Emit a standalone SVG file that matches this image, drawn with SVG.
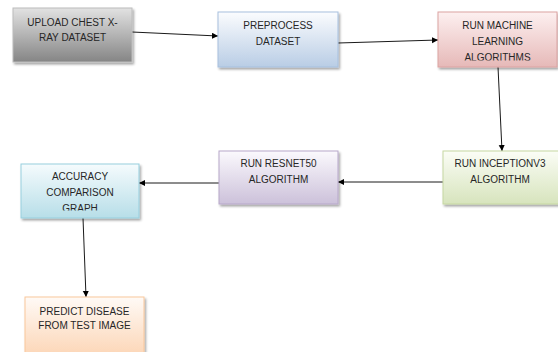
<svg xmlns="http://www.w3.org/2000/svg" width="558" height="352" viewBox="0 0 558 352">
<style>
  .box { stroke-width: 1; filter: url(#sh); }
  .t { font-family: "Liberation Sans", Arial, sans-serif; font-size: 10px; fill: #262626; text-anchor: middle; }
  .c { stroke: #1a1a1a; stroke-width: 1; fill: none; marker-end: url(#ah); }
</style>
<defs>
  <filter id="sh" x="-10%" y="-10%" width="130%" height="140%">
    <feDropShadow dx="1.5" dy="2" stdDeviation="1" flood-color="#000" flood-opacity="0.35"/>
  </filter>
  <marker id="ah" markerWidth="7" markerHeight="7" refX="6" refY="3" orient="auto" markerUnits="userSpaceOnUse">
    <path d="M0,0 L6,3 L0,6 z" fill="#000"/>
  </marker>
  <linearGradient id="gGray" x1="0" y1="0" x2="0" y2="1"><stop offset="0" stop-color="#e2e2e2"/><stop offset="1" stop-color="#858585"/></linearGradient>
  <linearGradient id="gBlue" x1="0" y1="0" x2="0" y2="1"><stop offset="0" stop-color="#fbfcfe"/><stop offset="1" stop-color="#b9cde5"/></linearGradient>
  <linearGradient id="gRed" x1="0" y1="0" x2="0" y2="1"><stop offset="0" stop-color="#fdf0f0"/><stop offset="1" stop-color="#e6b9b8"/></linearGradient>
  <linearGradient id="gGreen" x1="0" y1="0" x2="0" y2="1"><stop offset="0" stop-color="#fbfdf6"/><stop offset="1" stop-color="#d7e4bd"/></linearGradient>
  <linearGradient id="gPurple" x1="0" y1="0" x2="0" y2="1"><stop offset="0" stop-color="#fbf9fd"/><stop offset="1" stop-color="#ccc1da"/></linearGradient>
  <linearGradient id="gCyan" x1="0" y1="0" x2="0" y2="1"><stop offset="0" stop-color="#f5fbfd"/><stop offset="1" stop-color="#b7dee8"/></linearGradient>
  <linearGradient id="gOrange" x1="0" y1="0" x2="0" y2="1"><stop offset="0" stop-color="#fffaf6"/><stop offset="1" stop-color="#fcd5b5"/></linearGradient>
  <clipPath id="clip3"><rect x="438" y="12" width="120" height="48.5"/></clipPath>
  <clipPath id="clipAcc"><rect x="21" y="164" width="118" height="46.5"/></clipPath>
</defs>

<g id="connectors">
  <line class="c" x1="132" y1="32" x2="218" y2="36"/>
  <line class="c" x1="338" y1="43" x2="438" y2="40"/>
  <line class="c" x1="498" y1="67" x2="502" y2="151"/>
  <line class="c" x1="443" y1="182" x2="338" y2="182"/>
  <line class="c" x1="219" y1="183" x2="139" y2="183"/>
  <line class="c" x1="83" y1="218" x2="86" y2="297"/>
</g>

<g id="upload">
  <rect class="box" x="13" y="8" width="119" height="54" fill="url(#gGray)" stroke="#bcbcbc"/>
  <text class="t" x="72.5" y="25.5">UPLOAD CHEST X-</text>
  <text class="t" x="72.5" y="40.5">RAY DATASET</text>
</g>

<g id="preprocess">
  <rect class="box" x="218" y="12" width="120" height="55" fill="url(#gBlue)" stroke="#a7c0de"/>
  <text class="t" x="278" y="28.5">PREPROCESS</text>
  <text class="t" x="278" y="44.5">DATASET</text>
</g>

<g id="ml">
  <rect class="box" x="438" y="12" width="119" height="55" fill="url(#gRed)" stroke="#dca3a2"/>
  <g clip-path="url(#clip3)">
    <text class="t" x="497.5" y="28.5">RUN MACHINE</text>
    <text class="t" x="497.5" y="45">LEARNING</text>
    <text class="t" x="497.5" y="61">ALGORITHMS</text>
  </g>
</g>

<g id="inception">
  <rect class="box" x="443" y="151" width="116" height="53" fill="url(#gGreen)" stroke="#c6d8a2"/>
  <text class="t" x="500" y="166.5">RUN INCEPTIONV3</text>
  <text class="t" x="500" y="182.5">ALGORITHM</text>
</g>

<g id="resnet">
  <rect class="box" x="219" y="151" width="119" height="53" fill="url(#gPurple)" stroke="#b7a8ca"/>
  <text class="t" x="278.5" y="166.5">RUN RESNET50</text>
  <text class="t" x="278.5" y="182.5">ALGORITHM</text>
</g>

<g id="accuracy">
  <rect class="box" x="21" y="164" width="118" height="54" fill="url(#gCyan)" stroke="#97cfde"/>
  <g clip-path="url(#clipAcc)">
    <text class="t" x="80" y="179.5">ACCURACY</text>
    <text class="t" x="80" y="196">COMPARISON</text>
    <text class="t" x="80" y="211.5">GRAPH</text>
  </g>
</g>

<g id="predict">
  <rect class="box" x="25" y="297" width="119" height="60" fill="url(#gOrange)" stroke="#f9c79c"/>
  <text class="t" x="84.5" y="314.5">PREDICT DISEASE</text>
  <text class="t" x="84.5" y="329">FROM TEST IMAGE</text>
</g>
</svg>
